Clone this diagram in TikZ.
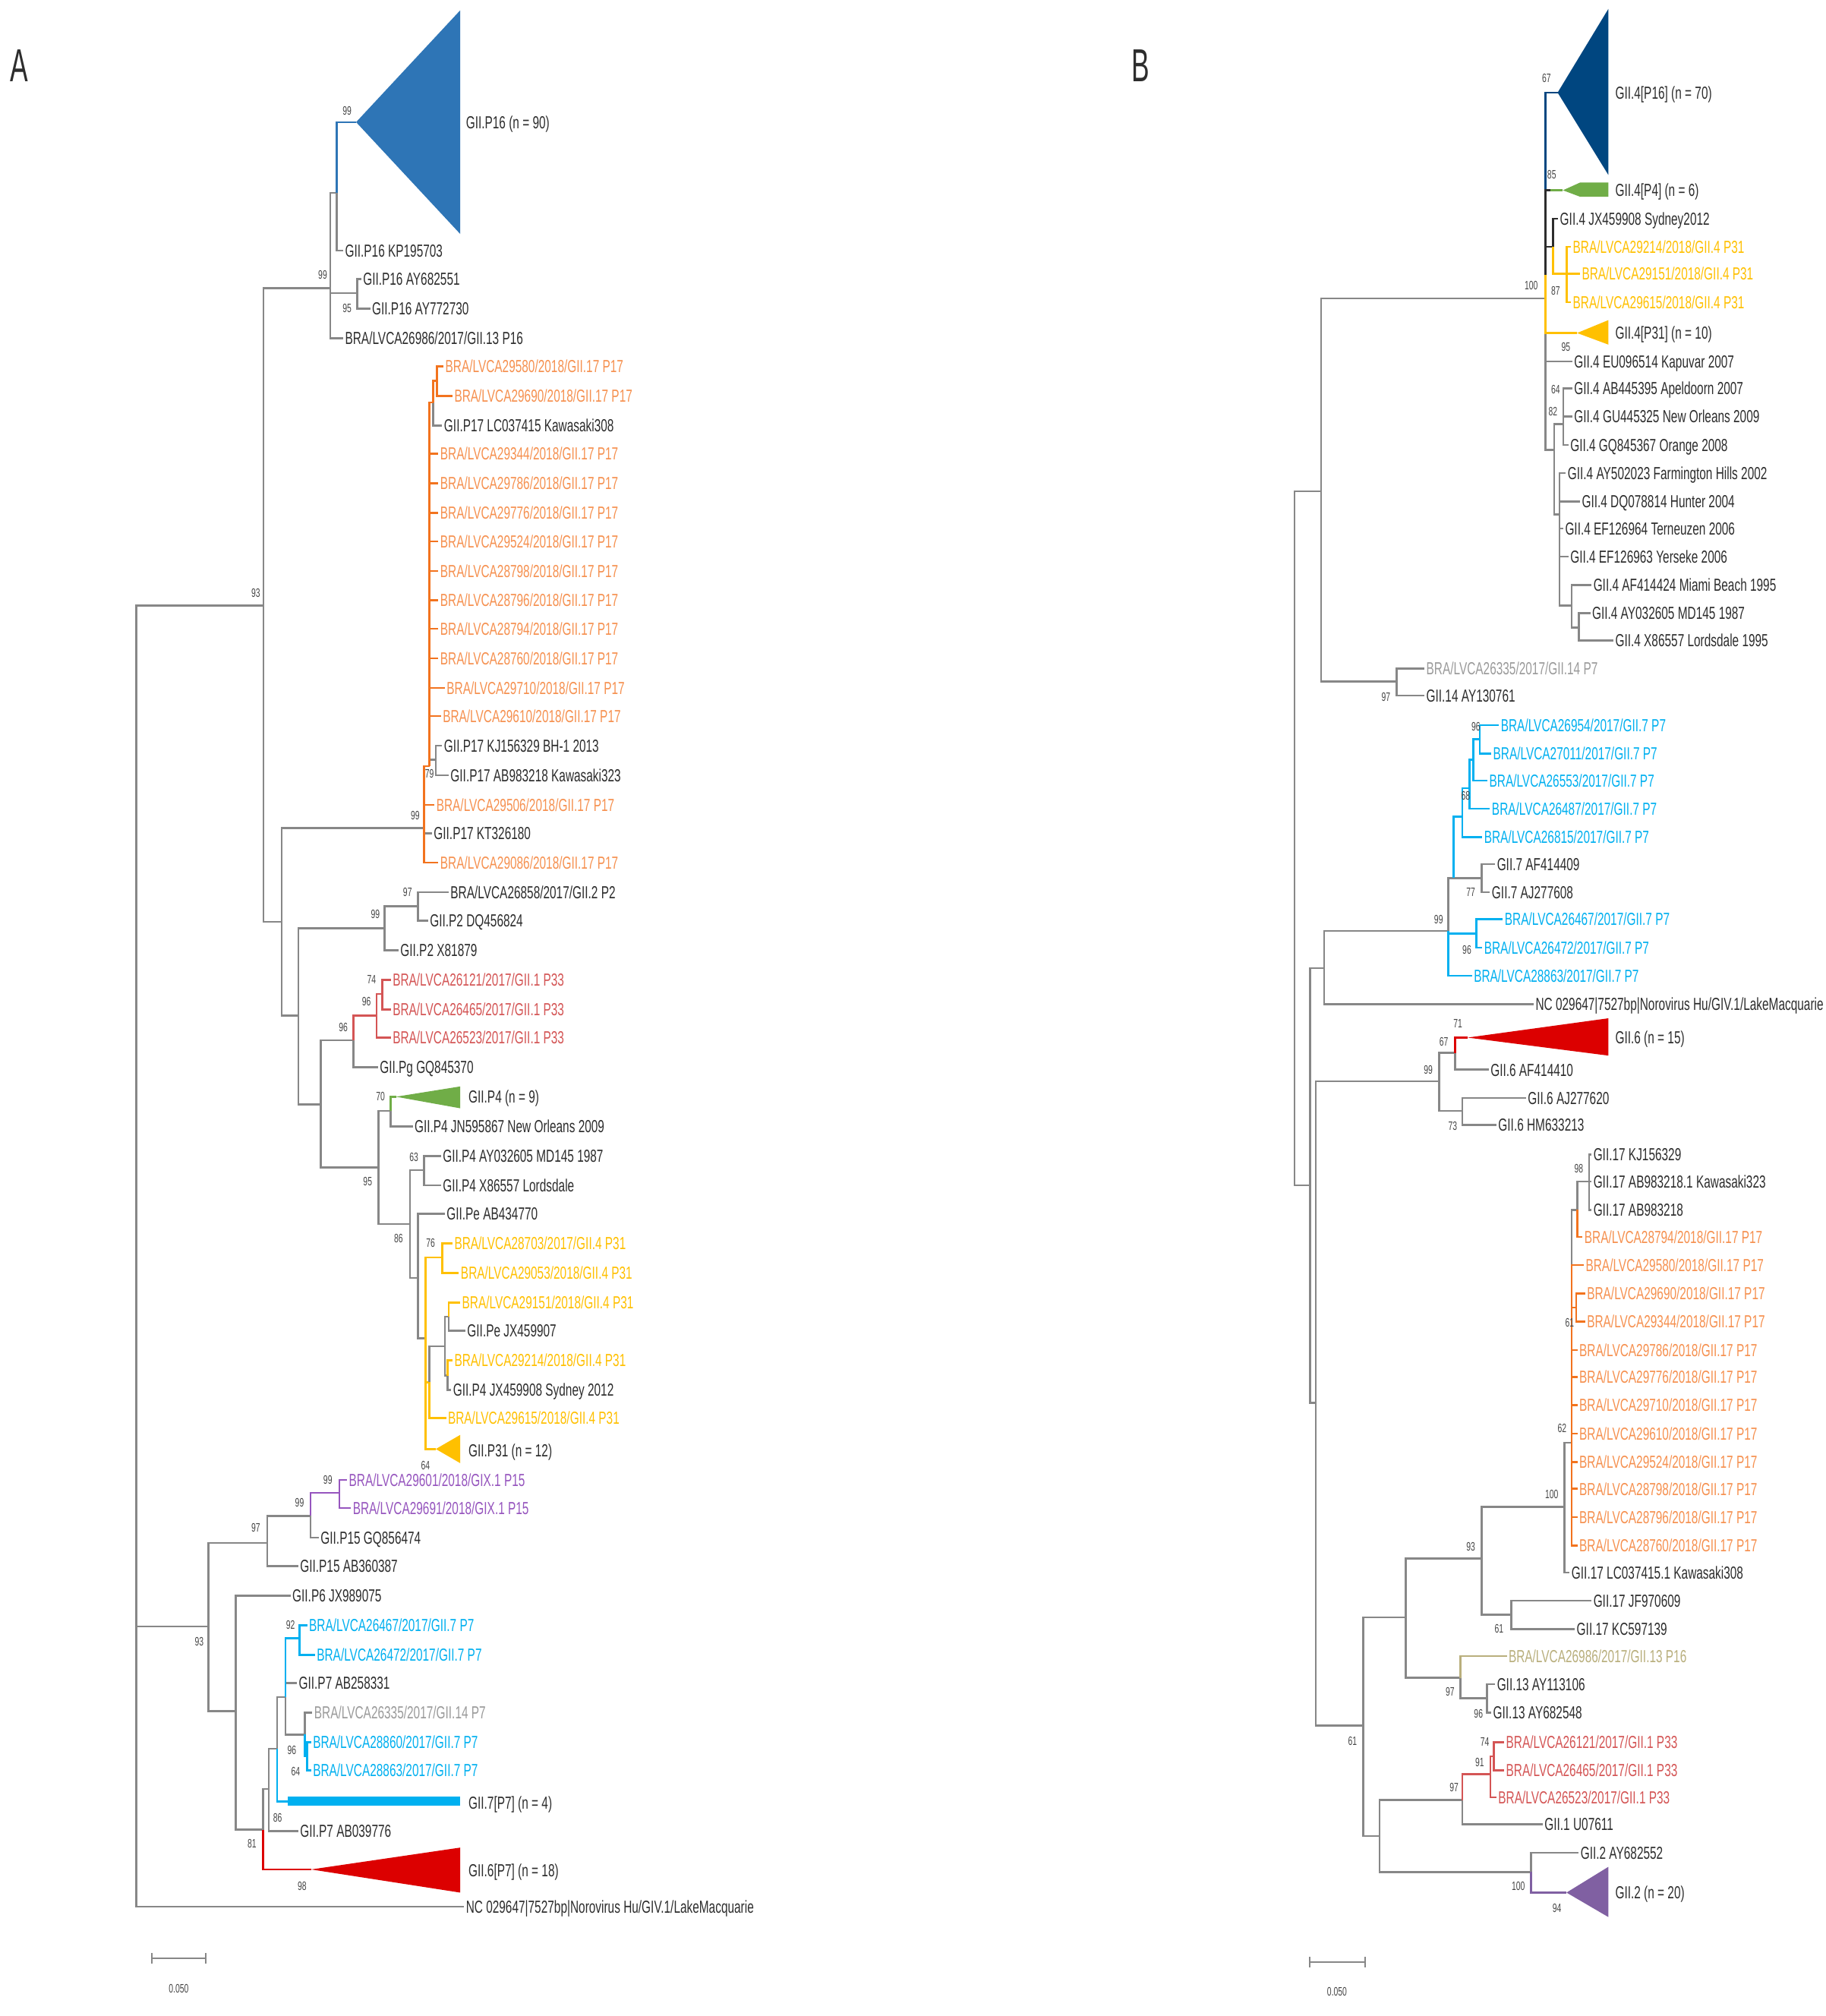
\documentclass[tikz,border=0pt]{standalone}
\usepackage{fontspec}
\newfontfamily\treefont[FakeStretch=0.67]{Liberation Sans}
\newfontfamily\bsfamily[FakeStretch=0.65]{Liberation Sans}
\newfontfamily\panelfamily[FakeStretch=0.58]{Liberation Sans}
\newcommand\lblsz{\treefont\fontsize{23}{23}\selectfont}
\newcommand\bssz{\bsfamily\fontsize{16}{16}\selectfont}
\newcommand\panelsz{\panelfamily\fontsize{61}{61}\selectfont}
\definecolor{lgray}{RGB}{135,135,135}
\definecolor{tblack}{RGB}{45,45,45}
\definecolor{tdark}{RGB}{70,70,70}
\definecolor{orangeL}{RGB}{246,145,80}
\definecolor{orangeB}{RGB}{242,115,30}
\definecolor{yel}{RGB}{255,192,0}
\definecolor{redL}{RGB}{212,85,85}
\definecolor{purp}{RGB}{150,85,190}
\definecolor{cyanL}{RGB}{0,176,240}
\definecolor{grayL}{RGB}{155,155,155}
\definecolor{greenT}{RGB}{112,173,71}
\definecolor{blueA}{RGB}{46,117,182}
\definecolor{blueB}{RGB}{0,70,128}
\definecolor{redT}{RGB}{220,0,0}
\definecolor{purpT}{RGB}{128,96,162}
\definecolor{olive}{RGB}{185,175,125}
\tikzset{
  br/.style={draw=lgray, line width=2.6pt},
  lf/.style={anchor=west, inner sep=0pt, outer sep=2.5pt, font=\lblsz, text height=16.5pt, text depth=0pt},
  bs/.style={inner sep=0pt, font=\bssz, text=tdark},
  panel/.style={inner sep=0pt, font=\panelsz, text=tblack},
}
\newcommand\leafnode[5]{\node[lf,text=#4] (#1) at (#2,#3) {#5};}
\newcommand\bsv[4]{\node[bs] (#1) at (#2,#3) {#4};}
\begin{document}
\begin{tikzpicture}[x=1.6937pt,y=-1.6937pt]
\useasboundingbox (0,0) rectangle (1420,1568);
\fill[white] (0,0) rectangle (1420,1568);
\node[panel] (pA) at (15,51) {A};
\node[panel] (pB) at (887.5,51) {B};

%================ TREE A ================
\coordinate (RA) at (106,1000);
\coordinate (A1) at (205,471);
\coordinate (A3) at (257,224);
\coordinate (A3a) at (262,150);
\coordinate (A3b) at (278,228);
\coordinate (tA16) at (277,95);
\coordinate (A4) at (219,717);
\coordinate (AP17) at (330,644);
\coordinate (APb) at (334,596);
\coordinate (APc) at (337,313);
\coordinate (APe) at (340,296);
\coordinate (APd) at (339,591);
\coordinate (A5) at (232,790);
\coordinate (AP2) at (299,722);
\coordinate (AP2a) at (325,705);
\coordinate (A6) at (249.5,859);
\coordinate (A7) at (275,809);
\coordinate (AR) at (293,790);
\coordinate (ARa) at (297.5,773);
\coordinate (A8) at (294.5,908);
\coordinate (A9) at (304,864);
\coordinate (tA4) at (308,853);
\coordinate (A10) at (319,952);
\coordinate (A11) at (330,910);
\coordinate (A12) at (325,994);
\coordinate (A13) at (331,1041);
\coordinate (A14) at (344,978);
\coordinate (A15) at (334,1075);
\coordinate (A16) at (346,1047);
\coordinate (A17) at (349,1024);
\coordinate (A18) at (348,1070);
\coordinate (tA31) at (339,1127);
\coordinate (A2) at (162,1265);
\coordinate (A19) at (208,1200);
\coordinate (A20) at (241.5,1179);
\coordinate (A21) at (264,1161);
\coordinate (A22) at (183.5,1331);
\coordinate (A23) at (204.5,1423);
\coordinate (tA6) at (242,1454);
\coordinate (A24) at (209,1391.5);
\coordinate (A25) at (215.5,1360);
\coordinate (tA7) at (224,1401);
\coordinate (A26) at (222,1320);
\coordinate (A27) at (233,1274);
\coordinate (A28) at (237,1349);
\coordinate (A29) at (239,1366);

% clades (collapsed)
\fill[blueA] (tA16) -- (358,8) -- (358,182) -- cycle;
\fill[greenT] (tA4) -- (358,845) -- (358,862) -- cycle;
\fill[yel] (tA31) -- (358,1116) -- (358,1138) -- cycle;
\fill[cyanL] (tA7) ++(0,-3.5) rectangle (358,1404.5);
\fill[redT] (tA6) -- (358,1437) -- (358,1472) -- cycle;

% leaves A
\leafnode{lA16}{361}{95}{tblack}{GII.P16 (n = 90)}
\leafnode{lKP}{267}{195}{tblack}{GII.P16 KP195703}
\leafnode{lAY1}{281}{217}{tblack}{GII.P16 AY682551}
\leafnode{lAY2}{288}{240}{tblack}{GII.P16 AY772730}
\leafnode{l13a}{267}{263}{tblack}{BRA/LVCA26986/2017/GII.13 P16}
\leafnode{p1}{345}{285}{orangeL}{BRA/LVCA29580/2018/GII.17 P17}
\leafnode{p2}{352}{308}{orangeL}{BRA/LVCA29690/2018/GII.17 P17}
\leafnode{p3}{344}{331}{tblack}{GII.P17 LC037415 Kawasaki308}
\leafnode{p4}{341}{353}{orangeL}{BRA/LVCA29344/2018/GII.17 P17}
\leafnode{p5}{341}{376}{orangeL}{BRA/LVCA29786/2018/GII.17 P17}
\leafnode{p6}{341}{399}{orangeL}{BRA/LVCA29776/2018/GII.17 P17}
\leafnode{p7}{341}{421}{orangeL}{BRA/LVCA29524/2018/GII.17 P17}
\leafnode{p8}{341}{444}{orangeL}{BRA/LVCA28798/2018/GII.17 P17}
\leafnode{p9}{341}{467}{orangeL}{BRA/LVCA28796/2018/GII.17 P17}
\leafnode{p10}{341}{489}{orangeL}{BRA/LVCA28794/2018/GII.17 P17}
\leafnode{p11}{341}{512}{orangeL}{BRA/LVCA28760/2018/GII.17 P17}
\leafnode{p12}{346}{535}{orangeL}{BRA/LVCA29710/2018/GII.17 P17}
\leafnode{p13}{343}{557}{orangeL}{BRA/LVCA29610/2018/GII.17 P17}
\leafnode{p14}{344}{580}{tblack}{GII.P17 KJ156329 BH-1 2013}
\leafnode{p15}{349}{603}{tblack}{GII.P17 AB983218 Kawasaki323}
\leafnode{p16}{338}{626}{orangeL}{BRA/LVCA29506/2018/GII.17 P17}
\leafnode{p17}{336}{648}{tblack}{GII.P17 KT326180}
\leafnode{p18}{341}{671}{orangeL}{BRA/LVCA29086/2018/GII.17 P17}
\leafnode{q1}{349}{694}{tblack}{BRA/LVCA26858/2017/GII.2 P2}
\leafnode{q2}{333}{716}{tblack}{GII.P2 DQ456824}
\leafnode{q3}{310}{739}{tblack}{GII.P2 X81879}
\leafnode{r1}{304}{762}{redL}{BRA/LVCA26121/2017/GII.1 P33}
\leafnode{r2}{304}{785}{redL}{BRA/LVCA26465/2017/GII.1 P33}
\leafnode{r3}{304}{807}{redL}{BRA/LVCA26523/2017/GII.1 P33}
\leafnode{r4}{294}{830}{tblack}{GII.Pg GQ845370}
\leafnode{lA4}{363}{853}{tblack}{GII.P4 (n = 9)}
\leafnode{s1}{321}{876}{tblack}{GII.P4 JN595867 New Orleans 2009}
\leafnode{s2}{343}{899}{tblack}{GII.P4 AY032605 MD145 1987}
\leafnode{s3}{343}{922}{tblack}{GII.P4 X86557 Lordsdale}
\leafnode{s4}{346}{944}{tblack}{GII.Pe AB434770}
\leafnode{y1}{352}{967}{yel}{BRA/LVCA28703/2017/GII.4 P31}
\leafnode{y2}{357}{990}{yel}{BRA/LVCA29053/2018/GII.4 P31}
\leafnode{y3}{358}{1013}{yel}{BRA/LVCA29151/2018/GII.4 P31}
\leafnode{s5}{362}{1035}{tblack}{GII.Pe JX459907}
\leafnode{y4}{352}{1058}{yel}{BRA/LVCA29214/2018/GII.4 P31}
\leafnode{s6}{351}{1081}{tblack}{GII.P4 JX459908 Sydney 2012}
\leafnode{y5}{347}{1103}{yel}{BRA/LVCA29615/2018/GII.4 P31}
\leafnode{lA31}{363}{1128}{tblack}{GII.P31 (n = 12)}
\leafnode{u1}{270}{1151}{purp}{BRA/LVCA29601/2018/GIX.1 P15}
\leafnode{u2}{273}{1173}{purp}{BRA/LVCA29691/2018/GIX.1 P15}
\leafnode{u3}{248}{1196}{tblack}{GII.P15 GQ856474}
\leafnode{u4}{232}{1218}{tblack}{GII.P15 AB360387}
\leafnode{u5}{226}{1241}{tblack}{GII.P6 JX989075}
\leafnode{c1}{239}{1264}{cyanL}{BRA/LVCA26467/2017/GII.7 P7}
\leafnode{c2}{245}{1287}{cyanL}{BRA/LVCA26472/2017/GII.7 P7}
\leafnode{c3}{231}{1309}{tblack}{GII.P7 AB258331}
\leafnode{c4}{243}{1332}{grayL}{BRA/LVCA26335/2017/GII.14 P7}
\leafnode{c5}{242}{1355}{cyanL}{BRA/LVCA28860/2017/GII.7 P7}
\leafnode{c6}{242}{1377}{cyanL}{BRA/LVCA28863/2017/GII.7 P7}
\leafnode{lA7}{363}{1402}{tblack}{GII.7[P7] (n = 4)}
\leafnode{c7}{232}{1424}{tblack}{GII.P7 AB039776}
\leafnode{lA6}{363}{1455}{tblack}{GII.6[P7] (n = 18)}
\leafnode{ogA}{361}{1483}{tblack}{NC 029647|7527bp|Norovirus Hu/GIV.1/LakeMacquarie}

% branches A (grey first)
\draw[br] (RA) |- (A1);
\draw[br] (RA) |- (A2);
\draw[br] (RA) |- (ogA.west);
\draw[br] (A1) |- (A3);
\draw[br] (A1) |- (A4);
\draw[br] (A3) |- (A3a);
\draw[br] (A3) |- (A3b);
\draw[br] (A3) |- (l13a.west);
\draw[br] (A3a) |- (lKP.west);
\draw[br,blueA] (A3a) |- (tA16);
\draw[br] (A3b) |- (lAY1.west);
\draw[br] (A3b) |- (lAY2.west);
\draw[br] (A4) |- (AP17);
\draw[br] (A4) |- (A5);
\draw[br] (AP17) |- (p17.west);
\draw[br] (APb) |- (APd);
\draw[br] (APd) |- (p14.west);
\draw[br] (APd) |- (p15.west);
\draw[br] (APc) |- (p3.west);
\draw[br,orangeB] (AP17) |- (APb);
\draw[br,orangeB] (AP17) |- (p16.west);
\draw[br,orangeB] (AP17) |- (p18.west);
\draw[br,orangeB] (APb) |- (APc);
\foreach \n in {p4,p5,p6,p7,p8,p9,p10,p11,p12,p13}{\draw[br,orangeB] (APb) |- (\n.west);}
\draw[br,orangeB] (APc) |- (APe);
\draw[br,orangeB] (APe) |- (p1.west);
\draw[br,orangeB] (APe) |- (p2.west);
\draw[br] (A5) |- (AP2);
\draw[br] (A5) |- (A6);
\draw[br] (AP2) |- (AP2a);
\draw[br] (AP2) |- (q3.west);
\draw[br] (AP2a) |- (q1.west);
\draw[br] (AP2a) |- (q2.west);
\draw[br] (A6) |- (A7);
\draw[br] (A6) |- (A8);
\draw[br] (A7) |- (r4.west);
\draw[br,redL] (A7) |- (AR);
\draw[br,redL] (AR) |- (ARa);
\draw[br,redL] (AR) |- (r3.west);
\draw[br,redL] (ARa) |- (r1.west);
\draw[br,redL] (ARa) |- (r2.west);
\draw[br] (A8) |- (A9);
\draw[br] (A8) |- (A10);
\draw[br] (A9) |- (s1.west);
\draw[br,greenT] (A9) |- (tA4);
\draw[br] (A10) |- (A11);
\draw[br] (A10) |- (A12);
\draw[br] (A11) |- (s2.west);
\draw[br] (A11) |- (s3.west);
\draw[br] (A12) |- (s4.west);
\draw[br] (A12) |- (A13);
\draw[br,yel] (A13) |- (A14);
\draw[br,yel] (A13) |- (A15);
\draw[br,yel] (A13) |- (tA31);
\draw[br,yel] (A14) |- (y1.west);
\draw[br,yel] (A14) |- (y2.west);
\draw[br] (A15) |- (A16);
\draw[br,yel] (A15) |- (y5.west);
\draw[br] (A16) |- (A17);
\draw[br] (A16) |- (A18);
\draw[br] (A17) |- (s5.west);
\draw[br,yel] (A17) |- (y3.west);
\draw[br] (A18) |- (s6.west);
\draw[br,yel] (A18) |- (y4.west);
\draw[br] (A2) |- (A19);
\draw[br] (A2) |- (A22);
\draw[br] (A19) |- (A20);
\draw[br] (A19) |- (u4.west);
\draw[br] (A20) |- (u3.west);
\draw[br,purp] (A20) |- (A21);
\draw[br,purp] (A21) |- (u1.west);
\draw[br,purp] (A21) |- (u2.west);
\draw[br] (A22) |- (u5.west);
\draw[br] (A22) |- (A23);
\draw[br] (A23) |- (A24);
\draw[br,redT] (A23) |- (tA6);
\draw[br] (A24) |- (A25);
\draw[br] (A24) |- (c7.west);
\draw[br] (A25) |- (A26);
\draw[br,cyanL] (A25) |- (tA7);
\draw[br] (A26) |- (c3.west);
\draw[br] (A26) |- (A28);
\draw[br,cyanL] (A26) |- (A27);
\draw[br,cyanL] (A27) |- (c1.west);
\draw[br,cyanL] (A27) |- (c2.west);
\draw[br] (A28) |- (c4.west);
\draw[br,cyanL] (A28) |- (A29);
\draw[br,cyanL] (A29) |- (c5.west);
\draw[br,cyanL] (A29) |- (c6.west);

% bootstrap A
\bsv{ba1}{270}{86}{99}
\bsv{ba2}{251}{214}{99}
\bsv{ba3}{270}{240}{95}
\bsv{ba4}{199}{461}{93}
\bsv{ba5}{323}{634}{99}
\bsv{ba6}{334}{602}{79}
\bsv{ba7}{317}{694}{97}
\bsv{ba8}{292}{711}{99}
\bsv{ba9}{289}{762}{74}
\bsv{ba10}{285}{779}{96}
\bsv{ba11}{267}{799}{96}
\bsv{ba12}{296}{853}{70}
\bsv{ba13}{286}{919}{95}
\bsv{ba14}{310}{963}{86}
\bsv{ba15}{322}{900}{63}
\bsv{ba16}{335}{967}{76}
\bsv{ba17}{331}{1140}{64}
\bsv{ba18}{255}{1151}{99}
\bsv{ba19}{233}{1169}{99}
\bsv{ba20}{199}{1188}{97}
\bsv{ba21}{155}{1277}{93}
\bsv{ba22}{226}{1264}{92}
\bsv{ba23}{227}{1361}{96}
\bsv{ba24}{230}{1378}{64}
\bsv{ba25}{216}{1414}{86}
\bsv{ba26}{196}{1434}{81}
\bsv{ba27}{235}{1467}{98}

% scale bar A
\coordinate (sa1) at (118,1523);
\coordinate (sa2) at (160,1523);
\draw[lgray, line width=2pt] (sa1) -- (sa2);
\draw[lgray, line width=2pt] (sa1) ++(0,-4) -- ++(0,8);
\draw[lgray, line width=2pt] (sa2) ++(0,-4) -- ++(0,8);
\node[bs] (sal) at (139,1547) {0.050};

%================ TREE B ================
\coordinate (RB) at (1007,650);
\coordinate (B1) at (1027.6,382);
\coordinate (G4) at (1202,232);
\coordinate (G4y) at (1202,214);
\coordinate (G14) at (1086.5,530);
\coordinate (tB16) at (1211.6,72);
\coordinate (tB4) at (1215.7,148);
\coordinate (GS) at (1208,192);
\coordinate (GY) at (1218.5,213);
\coordinate (tB31) at (1226.7,259);
\coordinate (G6) at (1209,350);
\coordinate (GAp) at (1216,330);
\coordinate (G7) at (1213,400);
\coordinate (G8) at (1222.6,471);
\coordinate (G9) at (1228,488);
\coordinate (B4) at (1019,922);
\coordinate (B3) at (1030,753);
\coordinate (B22) at (1126.6,724);
\coordinate (B23) at (1130.6,683);
\coordinate (B25) at (1137.5,635);
\coordinate (B27) at (1143,613);
\coordinate (B28) at (1146,591);
\coordinate (B29) at (1151,575);
\coordinate (B26) at (1152.5,683);
\coordinate (B24) at (1148.5,726);
\coordinate (B5) at (1023.5,1091);
\coordinate (B6) at (1119.5,841);
\coordinate (B6a) at (1132,819);
\coordinate (tB6) at (1141.6,807);
\coordinate (B6b) at (1137.5,864);
\coordinate (B7) at (1060.5,1342);
\coordinate (B8) at (1093.5,1258);
\coordinate (B10) at (1152.5,1212);
\coordinate (B12) at (1217,1172);
\coordinate (B14) at (1222.6,1122);
\coordinate (B14b) at (1226,1017);
\coordinate (B15) at (1227,941);
\coordinate (B16) at (1236,919);
\coordinate (B13) at (1175.4,1256);
\coordinate (B11) at (1136,1305);
\coordinate (B17) at (1156.6,1321);
\coordinate (B9) at (1073,1428);
\coordinate (B18) at (1137.5,1400);
\coordinate (B20) at (1159.4,1380);
\coordinate (B21) at (1162,1366);
\coordinate (B19) at (1191,1456);
\coordinate (tB2) at (1218.5,1472);

\fill[blueB] (tB16) -- (1251,7) -- (1251,136) -- cycle;
\fill[greenT] (tB4) -- (1229,142) -- (1251,142) -- (1251,153) -- (1229,153) -- cycle;
\fill[yel] (tB31) -- (1251,249) -- (1251,268) -- cycle;
\fill[redT] (tB6) -- (1251,792) -- (1251,821) -- cycle;
\fill[purpT] (tB2) -- (1251,1452) -- (1251,1491) -- cycle;

\leafnode{lB16}{1255}{72}{tblack}{GII.4[P16] (n = 70)}
\leafnode{lB4}{1255}{148}{tblack}{GII.4[P4] (n = 6)}
\leafnode{h1}{1212}{170}{tblack}{GII.4 JX459908 Sydney2012}
\leafnode{h2}{1222}{192}{yel}{BRA/LVCA29214/2018/GII.4 P31}
\leafnode{h3}{1229}{213}{yel}{BRA/LVCA29151/2018/GII.4 P31}
\leafnode{h4}{1222}{235}{yel}{BRA/LVCA29615/2018/GII.4 P31}
\leafnode{lB31}{1255}{259}{tblack}{GII.4[P31] (n = 10)}
\leafnode{h5}{1223}{281}{tblack}{GII.4 EU096514 Kapuvar 2007}
\leafnode{h6}{1223}{302}{tblack}{GII.4 AB445395 Apeldoorn 2007}
\leafnode{h7}{1223}{324}{tblack}{GII.4 GU445325 New Orleans 2009}
\leafnode{h8}{1220}{346}{tblack}{GII.4 GQ845367 Orange 2008}
\leafnode{h9}{1218}{368}{tblack}{GII.4 AY502023 Farmington Hills 2002}
\leafnode{h10}{1229}{390}{tblack}{GII.4 DQ078814 Hunter 2004}
\leafnode{h11}{1216}{411}{tblack}{GII.4 EF126964 Terneuzen 2006}
\leafnode{h12}{1220}{433}{tblack}{GII.4 EF126963 Yerseke 2006}
\leafnode{h13}{1238}{455}{tblack}{GII.4 AF414424 Miami Beach 1995}
\leafnode{h14}{1237}{477}{tblack}{GII.4 AY032605 MD145 1987}
\leafnode{h15}{1255}{498}{tblack}{GII.4 X86557 Lordsdale 1995}
\leafnode{k1}{1108}{520}{grayL}{BRA/LVCA26335/2017/GII.14 P7}
\leafnode{k2}{1108}{541}{tblack}{GII.14 AY130761}
\leafnode{m1}{1166}{564}{cyanL}{BRA/LVCA26954/2017/GII.7 P7}
\leafnode{m2}{1160}{586}{cyanL}{BRA/LVCA27011/2017/GII.7 P7}
\leafnode{m3}{1157}{607}{cyanL}{BRA/LVCA26553/2017/GII.7 P7}
\leafnode{m4}{1159}{629}{cyanL}{BRA/LVCA26487/2017/GII.7 P7}
\leafnode{m5}{1153}{651}{cyanL}{BRA/LVCA26815/2017/GII.7 P7}
\leafnode{m6}{1163}{672}{tblack}{GII.7 AF414409}
\leafnode{m7}{1159}{694}{tblack}{GII.7 AJ277608}
\leafnode{m8}{1169}{715}{cyanL}{BRA/LVCA26467/2017/GII.7 P7}
\leafnode{m9}{1153}{737}{cyanL}{BRA/LVCA26472/2017/GII.7 P7}
\leafnode{m10}{1145}{759}{cyanL}{BRA/LVCA28863/2017/GII.7 P7}
\leafnode{ogB}{1193}{781}{tblack}{NC 029647|7527bp|Norovirus Hu/GIV.1/LakeMacquarie}
\leafnode{lB6}{1255}{807}{tblack}{GII.6 (n = 15)}
\leafnode{n1}{1158}{832}{tblack}{GII.6 AF414410}
\leafnode{n2}{1187}{854}{tblack}{GII.6 AJ277620}
\leafnode{n3}{1164}{875}{tblack}{GII.6 HM633213}
\leafnode{o1}{1238}{898}{tblack}{GII.17 KJ156329}
\leafnode{o2}{1238}{919}{tblack}{GII.17 AB983218.1 Kawasaki323}
\leafnode{o3}{1238}{941}{tblack}{GII.17 AB983218}
\leafnode{o4}{1231}{962}{orangeL}{BRA/LVCA28794/2018/GII.17 P17}
\leafnode{o5}{1232}{984}{orangeL}{BRA/LVCA29580/2018/GII.17 P17}
\leafnode{o6}{1233}{1006}{orangeL}{BRA/LVCA29690/2018/GII.17 P17}
\leafnode{o7}{1233}{1028}{orangeL}{BRA/LVCA29344/2018/GII.17 P17}
\leafnode{o8}{1227}{1050}{orangeL}{BRA/LVCA29786/2018/GII.17 P17}
\leafnode{o9}{1227}{1071}{orangeL}{BRA/LVCA29776/2018/GII.17 P17}
\leafnode{o10}{1227}{1093}{orangeL}{BRA/LVCA29710/2018/GII.17 P17}
\leafnode{o11}{1227}{1115}{orangeL}{BRA/LVCA29610/2018/GII.17 P17}
\leafnode{o12}{1227}{1137}{orangeL}{BRA/LVCA29524/2018/GII.17 P17}
\leafnode{o13}{1227}{1158}{orangeL}{BRA/LVCA28798/2018/GII.17 P17}
\leafnode{o14}{1227}{1180}{orangeL}{BRA/LVCA28796/2018/GII.17 P17}
\leafnode{o15}{1227}{1202}{orangeL}{BRA/LVCA28760/2018/GII.17 P17}
\leafnode{o16}{1221}{1223}{tblack}{GII.17 LC037415.1 Kawasaki308}
\leafnode{o17}{1238}{1245}{tblack}{GII.17 JF970609}
\leafnode{o18}{1225}{1267}{tblack}{GII.17 KC597139}
\leafnode{t1}{1172}{1288}{olive}{BRA/LVCA26986/2017/GII.13 P16}
\leafnode{t2}{1163}{1310}{tblack}{GII.13 AY113106}
\leafnode{t3}{1160}{1332}{tblack}{GII.13 AY682548}
\leafnode{v1}{1170}{1355}{redL}{BRA/LVCA26121/2017/GII.1 P33}
\leafnode{v2}{1170}{1377}{redL}{BRA/LVCA26465/2017/GII.1 P33}
\leafnode{v3}{1164}{1398}{redL}{BRA/LVCA26523/2017/GII.1 P33}
\leafnode{v4}{1200}{1419}{tblack}{GII.1 U07611}
\leafnode{v5}{1228}{1441}{tblack}{GII.2 AY682552}
\leafnode{lB2}{1255}{1472}{tblack}{GII.2 (n = 20)}

% branches B
\draw[br] (RB) |- (B1);
\draw[br] (RB) |- (B4);
\draw[br] (B1) |- (G4);
\draw[br] (B1) |- (G14);
\draw[br] (G14) |- (k1.west);
\draw[br] (G14) |- (k2.west);
\draw[br] (G4) |- (h5.west);
\draw[br] (G4) |- (G6);
\draw[br] (G6) |- (GAp);
\draw[br] (G6) |- (G7);
\draw[br] (GAp) |- (h6.west);
\draw[br] (GAp) |- (h7.west);
\draw[br] (GAp) |- (h8.west);
\foreach \n in {h9,h10,h11,h12}{\draw[br] (G7) |- (\n.west);}
\draw[br] (G7) |- (G8);
\draw[br] (G8) |- (h13.west);
\draw[br] (G8) |- (G9);
\draw[br] (G9) |- (h14.west);
\draw[br] (G9) |- (h15.west);
\draw[br,blueB] (G4) |- (tB16);
\draw[br,tblack] (G4) |- (tB4);
\draw[br,greenT] (tB4) -- ++(-10,0);
\draw[br,tblack] (G4) |- (GS);
\draw[br,tblack] (GS) |- (h1.west);
\draw[br,yel] (GS) |- (GY);
\draw[br,yel] (GY) |- (h2.west);
\draw[br,yel] (GY) |- (h3.west);
\draw[br,yel] (GY) |- (h4.west);
\draw[br,yel] (G4) |- (tB31);
\draw[br,yel] (G4y) -- (G4);

\draw[br] (B4) |- (B3);
\draw[br] (B4) |- (B5);
\draw[br] (B3) |- (B22);
\draw[br] (B3) |- (ogB.west);
\draw[br] (B22) |- (B23);
\draw[br,cyanL] (B22) |- (B24);
\draw[br,cyanL] (B22) |- (m10.west);
\draw[br] (B23) |- (B26);
\draw[br,cyanL] (B23) |- (B25);
\draw[br] (B26) |- (m6.west);
\draw[br] (B26) |- (m7.west);
\draw[br,cyanL] (B25) |- (B27);
\draw[br,cyanL] (B25) |- (m5.west);
\draw[br,cyanL] (B27) |- (B28);
\draw[br,cyanL] (B27) |- (m4.west);
\draw[br,cyanL] (B28) |- (B29);
\draw[br,cyanL] (B28) |- (m3.west);
\draw[br,cyanL] (B29) |- (m1.west);
\draw[br,cyanL] (B29) |- (m2.west);
\draw[br,cyanL] (B24) |- (m8.west);
\draw[br,cyanL] (B24) |- (m9.west);

\draw[br] (B5) |- (B6);
\draw[br] (B5) |- (B7);
\draw[br] (B6) |- (B6a);
\draw[br] (B6) |- (B6b);
\draw[br] (B6a) |- (n1.west);
\draw[br,redT] (B6a) |- (tB6);
\draw[br] (B6b) |- (n2.west);
\draw[br] (B6b) |- (n3.west);
\draw[br] (B7) |- (B8);
\draw[br] (B7) |- (B9);
\draw[br] (B8) |- (B10);
\draw[br] (B8) |- (B11);
\draw[br] (B10) |- (B12);
\draw[br] (B10) |- (B13);
\draw[br] (B12) |- (o16.west);
\draw[br] (B12) |- (B14);
\draw[br] (B14) |- (B15);
\draw[br] (B15) |- (B16);
\draw[br] (B16) |- (o1.west);
\draw[br] (B16) |- (o2.west);
\draw[br] (B16) |- (o3.west);
\draw[br,orangeB] (B15) |- (o4.west);
\draw[br,orangeB] (B14) |- (o5.west);
\draw[br,orangeB] (B14) |- (B14b);
\foreach \n in {o8,o9,o10,o11,o12,o13,o14,o15}{\draw[br,orangeB] (B14) |- (\n.west);}
\draw[br,orangeB] (B14b) |- (o6.west);
\draw[br,orangeB] (B14b) |- (o7.west);
\draw[br] (B13) |- (o17.west);
\draw[br] (B13) |- (o18.west);
\draw[br] (B11) |- (B17);
\draw[br,olive] (B11) |- (t1.west);
\draw[br] (B17) |- (t2.west);
\draw[br] (B17) |- (t3.west);
\draw[br] (B9) |- (B18);
\draw[br] (B9) |- (B19);
\draw[br] (B18) |- (v4.west);
\draw[br,redL] (B18) |- (B20);
\draw[br,redL] (B20) |- (B21);
\draw[br,redL] (B20) |- (v3.west);
\draw[br,redL] (B21) |- (v1.west);
\draw[br,redL] (B21) |- (v2.west);
\draw[br] (B19) |- (v5.west);
\draw[br,purpT] (B19) |- (tB2);

% bootstrap B
\bsv{bb1}{1203}{61}{67}
\bsv{bb2}{1207}{136}{85}
\bsv{bb3}{1191}{222}{100}
\bsv{bb4}{1210}{226}{87}
\bsv{bb5}{1218}{270}{95}
\bsv{bb6}{1210}{303}{64}
\bsv{bb7}{1208}{320}{82}
\bsv{bb8}{1078}{542}{97}
\bsv{bb9}{1148}{565}{96}
\bsv{bb10}{1140}{619}{68}
\bsv{bb11}{1144}{694}{77}
\bsv{bb12}{1119}{715}{99}
\bsv{bb13}{1141}{739}{96}
\bsv{bb14}{1111}{832}{99}
\bsv{bb15}{1123}{810}{67}
\bsv{bb16}{1134}{796}{71}
\bsv{bb17}{1130}{876}{73}
\bsv{bb18}{1228}{909}{98}
\bsv{bb19}{1221}{1029}{61}
\bsv{bb20}{1215}{1111}{62}
\bsv{bb21}{1207}{1162}{100}
\bsv{bb22}{1144}{1203}{93}
\bsv{bb23}{1166}{1267}{61}
\bsv{bb24}{1128}{1316}{97}
\bsv{bb25}{1150}{1333}{96}
\bsv{bb26}{1052}{1354}{61}
\bsv{bb27}{1155}{1355}{74}
\bsv{bb28}{1151}{1371}{91}
\bsv{bb29}{1131}{1390}{97}
\bsv{bb30}{1181}{1467}{100}
\bsv{bb31}{1211}{1484}{94}

% scale bar B
\coordinate (sb1) at (1019,1526);
\coordinate (sb2) at (1062,1526);
\draw[lgray, line width=2pt] (sb1) -- (sb2);
\draw[lgray, line width=2pt] (sb1) ++(0,-4) -- ++(0,8);
\draw[lgray, line width=2pt] (sb2) ++(0,-4) -- ++(0,8);
\node[bs] (sbl) at (1040,1549) {0.050};
\end{tikzpicture}
\end{document}
